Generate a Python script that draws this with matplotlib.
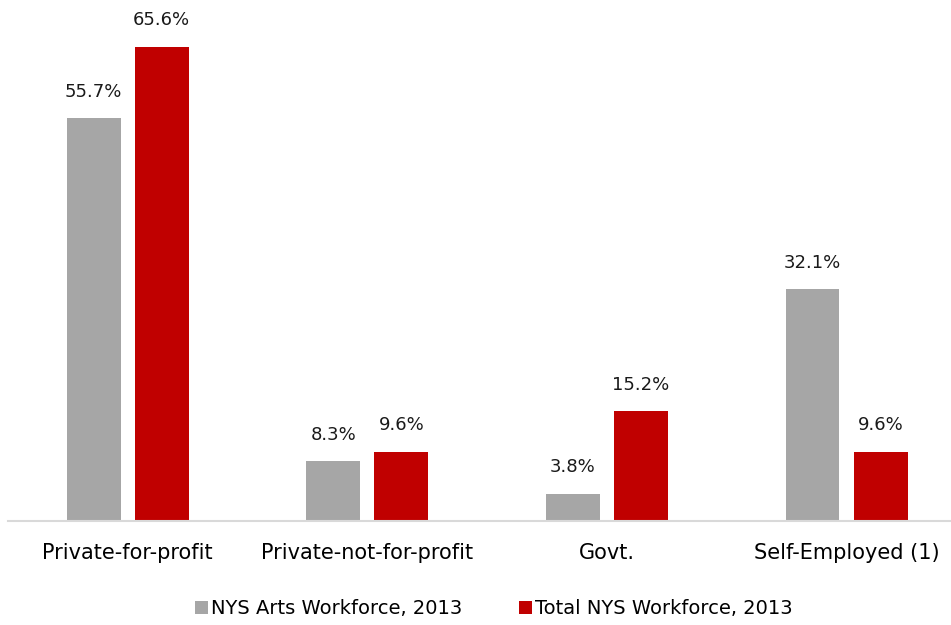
import matplotlib.pyplot as plt
import numpy as np

categories = ["Private-for-profit", "Private-not-for-profit", "Govt.", "Self-Employed (1)"]
arts = [55.7, 8.3, 3.8, 32.1]
total = [65.6, 9.6, 15.2, 9.6]
series_names = ["NYS Arts Workforce, 2013", "Total NYS Workforce, 2013"]

fig = plt.figure(figsize=(9.51, 6.25), dpi=100)
ax = fig.add_axes([8 / 951, 1 - 521 / 625, 1 - 8 / 951, (521 - 15) / 625])

x = np.arange(len(categories))
w = 0.225
off = 0.142
b1 = ax.bar(x - off, arts, w, color="#a6a6a6", label=series_names[0])
b2 = ax.bar(x + off, total, w, color="#c00000", label=series_names[1])

# value labels above bars
for bars, vals in [(b1, arts), (b2, total)]:
    for r, v in zip(bars, vals):
        ax.annotate(f"{v:.1f}%", (r.get_x() + r.get_width() / 2, v),
                    xytext=(0, 12.5), textcoords="offset points",
                    ha="center", va="bottom", fontsize=13, color="#1a1a1a")

ax.set_xlim(-0.499, 3.436)
ax.set_ylim(0, 70)
ax.set_yticks([])
ax.set_xticks(x)
ax.set_xticklabels(categories, fontsize=15)
ax.tick_params(axis="x", length=0, pad=16)
for s in ["top", "right", "left"]:
    ax.spines[s].set_visible(False)
ax.spines["bottom"].set_color("#d9d9d9")
ax.spines["bottom"].set_linewidth(1.5)

fig.legend(handles=[b1, b2], loc="center", bbox_to_anchor=(494 / 951, 1 - 609 / 625),
           ncol=2, frameon=False, fontsize=14,
           handlelength=0.67, handleheight=0.67, handletextpad=0.15, columnspacing=2.9)

fig.savefig("out.png", dpi=100)
